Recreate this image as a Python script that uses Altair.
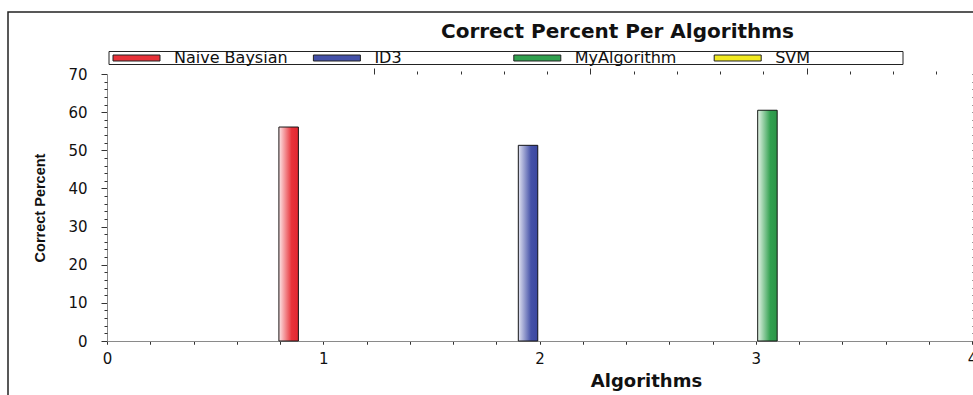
import altair as alt
import pandas as pd

# ---- data ----
series_names = ["Naive Baysian", "ID3", "MyAlgorithm", "SVM"]
series_colors = ["#e8333a", "#4451a8", "#31a04f", "#f2ea22"]
light_colors = ["#fde6e8", "#e2e4f2", "#e6f4e8", "#fffff2"]
dark_colors = ["#e32630", "#3b47a0", "#2b9547", "#eee414"]

bar_series = ["Naive Baysian", "ID3", "MyAlgorithm"]
bar_positions = [0.84, 1.947, 3.054]
bar_values = [56.1, 51.3, 60.5]

x_major_ticks = [0, 1, 2, 3, 4]
x_minor_ticks = [0.2, 0.4, 0.6, 0.8, 1.2, 1.4, 1.6, 1.8, 2.2, 2.4, 2.6, 2.8,
                 3.2, 3.4, 3.6, 3.8]
x_all_ticks = [0, 0.2, 0.4, 0.6, 0.8, 1, 1.2, 1.4, 1.6, 1.8, 2, 2.2, 2.4, 2.6,
               2.8, 3, 3.2, 3.4, 3.6, 3.8, 4]
y_major_ticks = [0, 10, 20, 30, 40, 50, 60, 70]
y_minor_ticks = [2, 4, 6, 8, 12, 14, 16, 18, 22, 24, 26, 28, 32, 34, 36, 38,
                 42, 44, 46, 48, 52, 54, 56, 58, 62, 64, 66, 68]

df = pd.DataFrame({"series": bar_series, "pos": bar_positions, "value": bar_values})

W, H = 865, 267
BAR_HALF = 0.045
TICK_COLOR = "#333333"
DOMAIN_COLOR = "#8a8a8a"

base = alt.Chart(df).transform_calculate(
    x0=f"datum.pos - {BAR_HALF}", x1=f"datum.pos + {BAR_HALF}"
)
xscale = alt.Scale(domain=[0, 4], nice=False, zero=False)
yscale = alt.Scale(domain=[0, 70], nice=False, zero=True)


def encode(layer, xaxis, yaxis, **kw):
    return layer.encode(
        x=alt.X("x0:Q", scale=xscale, axis=xaxis),
        x2="x1:Q",
        y=alt.Y("value:Q", scale=yscale, axis=yaxis),
        y2=alt.datum(0),
        **kw,
    )


def ax(orient, values, size, domain=False, **kw):
    return alt.Axis(
        orient=orient, values=values, tickSize=size, tickColor=TICK_COLOR,
        tickWidth=1, domain=domain, domainColor=DOMAIN_COLOR, labels=False,
        grid=False, title="", **kw
    )


# main layer: solid bars (legend + main axes)
main = encode(
    base.mark_rect(),
    alt.Axis(
        orient="bottom", values=x_all_ticks, tickSize=3, tickColor=TICK_COLOR,
        domainColor=DOMAIN_COLOR, grid=False, labelFlush=False, labelOverlap=False,
        labelExpr="datum.value % 1 === 0 ? format(datum.value, 'd') : ''",
        labelFont="DejaVu Sans", labelFontSize=15, labelColor="#111111", labelPadding=7,
        title="Algorithms", titleFont="DejaVu Sans", titleFontSize=18,
        titleFontWeight="bold", titleColor="#111111", titleX=539, titleY=45,
        titleAlign="center", titleBaseline="alphabetic",
    ),
    alt.Axis(
        orient="left", values=y_major_ticks, tickSize=6, tickColor=TICK_COLOR,
        domainColor=DOMAIN_COLOR, grid=False, labelFlush=False,
        labelFont="DejaVu Sans", labelFontSize=15, labelColor="#111111", labelPadding=14,
        title="Correct Percent", titleFont="Liberation Sans",
        titleFontSize=14.5, titleFontWeight="bold", titleColor="#111111",
        titleAngle=270, titleX=-63, titleY=133.5, titleAlign="center",
        titleBaseline="alphabetic",
    ),
    color=alt.Color(
        "series:N",
        scale=alt.Scale(domain=series_names, range=series_colors),
        legend=alt.Legend(
            title=None, orient="none", legendX=2, legendY=-24,
            direction="horizontal", columns=4, gridAlign="all", columnPadding=21.4,
            symbolType="M-1.333,-1H14.333V1H-1.333Z", symbolSize=36,
            symbolStrokeColor="#222222", symbolStrokeWidth=1, symbolOpacity=1,
            labelOffset=49, labelFont="DejaVu Sans", labelFontSize=16,
            labelColor="#111111", labelLimit=300, padding=0,
        ),
    ),
)

ghost = base.mark_rect(opacity=0)
axes_layers = [
    encode(ghost, ax("top", x_major_ticks, 6, position=H), ax("left", y_minor_ticks, 3)),
    encode(ghost, ax("top", x_minor_ticks, 3, position=H), ax("right", y_major_ticks, 6, position=0)),
    encode(ghost, ax("bottom", x_all_ticks, 3, domain=True, position=0), ax("right", y_minor_ticks, 3, position=0)),
]

grad_layers = []
for name, light, mid, dark in zip(series_names, light_colors, series_colors, dark_colors):
    if name not in bar_series:
        continue
    g = alt.LinearGradient(
        gradient="linear", x1=0, x2=1, y1=0, y2=0,
        stops=[
            alt.GradientStop(offset=0, color=light),
            alt.GradientStop(offset=0.65, color=mid),
            alt.GradientStop(offset=1, color=dark),
        ],
    )
    grad_layers.append(
        encode(
            base.transform_filter(alt.datum.series == name).mark_rect(
                fill=g, stroke="#1a1a1a", strokeWidth=1
            ),
            None, None,
        )
    )

one = pd.DataFrame({"k": [0]})
# outer chart frame (decoration)
frame = alt.Chart(one).mark_rect(
    fillOpacity=0, stroke="#222222", strokeWidth=1.5
).encode(
    x=alt.value(-99), x2=alt.value(W + 30), y=alt.value(-62), y2=alt.value(H + 90)
)
# legend frame (decoration)
legend_box = alt.Chart(one).mark_rect(
    fillOpacity=0, stroke="#222222", strokeWidth=1
).encode(
    x=alt.value(2), x2=alt.value(796), y=alt.value(-22.5), y2=alt.value(-9.5)
)

chart = alt.layer(main, *axes_layers, *grad_layers, frame, legend_box).resolve_axis(
    x="independent", y="independent"
).properties(
    width=W,
    height=H,
    padding={"left": 107, "top": 74, "right": 1, "bottom": 54},
    autosize=alt.AutoSizeParams(type="none"),
    background="white",
    title=alt.TitleParams(
        "Correct Percent Per Algorithms", font="DejaVu Sans", fontSize=20,
        fontWeight="bold", color="#111111", anchor="middle", frame="group",
        dx=78, dy=67, baseline="alphabetic", offset=20,
    ),
).configure_view(strokeWidth=0)

chart.save("out.html", embed_options={"renderer": "svg", "actions": False})
